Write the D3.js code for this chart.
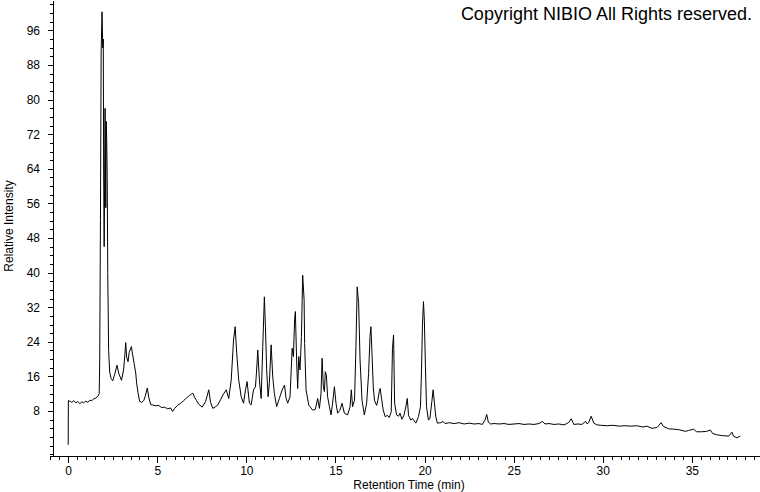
<!DOCTYPE html>
<html>
<head>
<meta charset="utf-8">
<script src="https://cdn.jsdelivr.net/npm/d3@7"></script>
<style>
  html, body { margin: 0; padding: 0; background: #fff; }
  svg { display: block; }
  text { font-family: "Liberation Sans", Arial, sans-serif; fill: #000; }
</style>
</head>
<body>
<svg id="chart" width="760" height="492"></svg>
<script>
// ---- data ----
const retentionTime = [
  0.00, 0.01, 0.09, 0.20, 0.31, 0.43, 0.54, 0.65, 0.76, 0.87, 0.99, 1.10, 1.21, 1.32, 1.43, 1.55, 1.66, 1.74,
  1.77, 1.81, 1.85, 1.90, 1.94, 1.97, 1.99, 2.02, 2.07, 2.11, 2.13, 2.16, 2.19, 2.22, 2.27, 2.33,
  2.41, 2.50, 2.61, 2.74, 2.83, 2.99, 3.11, 3.18, 3.23, 3.28, 3.36, 3.42, 3.55, 3.60, 3.70, 3.79, 3.84, 3.92,
  4.01, 4.12, 4.24, 4.33, 4.44, 4.53, 4.63, 4.74, 4.91, 5.08, 5.24, 5.41, 5.58, 5.75, 5.86, 5.97,
  6.14, 6.31, 6.48, 6.64, 6.81, 6.92, 7.00, 7.09, 7.19, 7.32, 7.52, 7.71, 7.89, 7.99, 8.12, 8.27, 8.40,
  8.55, 8.68, 8.87, 9.01, 9.15, 9.28, 9.37, 9.46, 9.57, 9.71, 9.84, 9.95, 10.04, 10.17, 10.27, 10.40,
  10.51, 10.57, 10.64, 10.73, 10.83, 10.92, 11.01, 11.07, 11.14, 11.22, 11.29, 11.39, 11.48, 11.57, 11.70,
  11.85, 12.01, 12.14, 12.23, 12.32, 12.45, 12.57, 12.64, 12.71, 12.75, 12.82, 12.88, 12.94, 13.01, 13.09,
  13.16, 13.24, 13.27, 13.35, 13.50, 13.72, 13.87, 14.00, 14.10, 14.19, 14.25, 14.32, 14.38, 14.43, 14.49,
  14.56, 14.66, 14.75, 14.84, 14.94, 15.03, 15.12, 15.25, 15.37, 15.50, 15.68, 15.82, 15.89, 15.96, 16.07,
  16.15, 16.22, 16.30, 16.38, 16.49, 16.62, 16.75, 16.86, 16.94, 16.99, 17.05, 17.12, 17.19, 17.31, 17.38,
  17.46, 17.51, 17.59, 17.68, 17.79, 17.92, 18.02, 18.13, 18.20, 18.26, 18.32, 18.43, 18.54, 18.62, 18.73,
  18.84, 18.95, 19.03, 19.10, 19.23, 19.32, 19.51, 19.66, 19.77, 19.83, 19.88, 19.94, 19.99, 20.05, 20.11,
  20.22, 20.30, 20.41, 20.48, 20.55, 20.63, 20.72, 20.91, 21.04, 21.15, 21.38, 21.66, 21.94, 22.22, 22.50,
  22.78, 23.06, 23.24, 23.39, 23.49, 23.58, 23.71, 23.90, 24.18, 24.46, 24.74, 25.02, 25.30, 25.58, 25.86,
  26.14, 26.42, 26.61, 26.76, 26.98, 27.26, 27.54, 27.82, 27.99, 28.10, 28.23, 28.38, 28.61, 28.83, 29.04,
  29.13, 29.22, 29.35, 29.50, 29.67, 29.89, 30.23, 30.57, 30.90, 31.24, 31.58, 31.91, 32.25, 32.47, 32.77,
  33.05, 33.27, 33.42, 33.70, 33.98, 34.26, 34.64, 34.82, 35.10, 35.27, 35.55, 35.83, 36.04, 36.17, 36.40,
  36.73, 37.07, 37.25, 37.34, 37.53, 37.72
];
const relativeIntensity = [
  0.2, 10.4, 10.3, 10.0, 10.4, 9.9, 10.2, 9.7, 10.1, 9.9, 10.3, 10.0, 10.5, 10.4, 10.8, 11.0, 11.4, 12.0,
  20, 52, 91, 100.3, 92, 94, 63, 46, 78, 55, 75, 71, 62, 40, 22, 17,
  15.5, 15.0, 16.5, 18.6, 16.8, 15.1, 17.5, 21, 23.8, 20.5, 19.4, 21.5, 22.9, 21.4, 19.0, 16.8, 14.5, 12.2,
  10.2, 10.0, 10.4, 11.5, 13.3, 11.0, 9.5, 9.4, 9.2, 9.3, 8.8, 8.9, 8.5, 8.7, 7.9, 8.6,
  9.3, 9.8, 10.4, 11.0, 11.6, 11.9, 12.1, 11.2, 10.5, 9.6, 8.9, 10.2, 12.9, 10.0, 8.6, 9.0, 9.4,
  10.6, 11.7, 12.9, 10.9, 15.2, 24.4, 27.5, 21.3, 15.2, 11.3, 9.8, 12.9, 14.8, 9.8, 9.4, 12.9,
  13.6, 17, 22.1, 15.2, 10.9, 22.9, 34.4, 27.5, 17.5, 11.3, 14.4, 23.3, 15.9, 12.1, 9.0,
  10.9, 12.9, 14.0, 10.9, 9.8, 11.3, 22.5, 20.6, 29.4, 31.0, 19.8, 13.2, 20.6, 17.5, 25.2,
  39.4, 33.7, 23.6, 12.9, 9.4, 8.2, 8.4, 10.9, 8.6, 12.1, 20.2, 13.6, 12.5, 17.1, 16.3,
  11.3, 9.0, 7.1, 9.8, 13.6, 9.8, 7.5, 8.2, 9.8, 7.5, 7.1, 9.0, 12.9, 9.0, 10.5,
  22.9, 36.7, 32.9, 19.8, 10.5, 7.1, 9.8, 16.7, 25.2, 27.5, 21.3, 13.6, 10.5, 9.3, 10.5,
  12.5, 13.2, 10.8, 8.2, 6.7, 7.0, 6.5, 7.8, 22.5, 25.6, 9.8, 7.1, 6.8, 7.5, 6.1,
  7.0, 9.0, 10.9, 7.0, 5.9, 6.3, 5.2, 6.7, 9.0, 17.5, 27.5, 33.3, 29.0, 18.2, 9.0,
  5.9, 6.3, 10.2, 12.9, 10.0, 6.7, 5.2, 5.3, 5.6, 5.1, 5.3, 5.1, 5.3, 5.0, 5.2,
  5.0, 5.1, 4.9, 5.9, 7.2, 5.4, 5.0, 5.1, 5.0, 5.1, 4.9, 5.0, 5.1, 4.9, 5.0,
  4.9, 5.1, 5.6, 5.0, 5.1, 4.9, 5.0, 4.8, 5.1, 5.4, 6.2, 4.9, 5.0, 4.9, 5.6,
  5.0, 5.4, 6.8, 5.2, 4.8, 4.7, 4.6, 4.7, 4.5, 4.6, 4.5, 4.6, 4.3, 4.5, 4.0,
  4.2, 5.3, 4.4, 3.9, 3.8, 3.7, 3.3, 3.5, 3.8, 3.2, 3.2, 3.3, 3.6, 2.8, 2.5,
  2.3, 2.2, 3.1, 2.2, 1.8, 2.2
];
const xMajorTicks = [0, 5, 10, 15, 20, 25, 30, 35];
const yMajorTicks = [8, 16, 24, 32, 40, 48, 56, 64, 72, 80, 88, 96];
const xLabel = "Retention Time (min)";
const yLabel = "Relative Intensity";
const copyrightText = "Copyright NIBIO All Rights reserved.";

// ---- layout ----
const svg = d3.select("#chart");
const axisY = 456, axisX = 53;
const x = d3.scaleLinear().domain([-1.0208, 38.77]).range([50, 759]);
const y = d3.scaleLinear().domain([-2.40, 103.03]).range([456, 0]);

const xMinor = d3.range(-1, 38.51, 0.5).filter(v => !xMajorTicks.includes(v));
const yMinor = d3.range(-2, 103, 2).filter(v => !yMajorTicks.includes(v));

// x axis
svg.append("g").attr("transform", `translate(0,${axisY})`)
  .call(d3.axisBottom(x).tickValues(xMinor).tickSize(4).tickSizeOuter(0).tickFormat(""))
  .call(g => g.selectAll("path,line").attr("stroke", "#000").attr("shape-rendering", "crispEdges"));
svg.append("g").attr("transform", `translate(0,${axisY})`)
  .call(d3.axisBottom(x).tickValues(xMajorTicks).tickSize(7).tickSizeOuter(0).tickPadding(3).tickFormat(d3.format("d")))
  .call(g => g.select(".domain").remove())
  .call(g => g.selectAll("line").attr("stroke", "#000").attr("shape-rendering", "crispEdges"))
  .call(g => g.selectAll("text").attr("font-size", 12).attr("font-family", '"Liberation Sans", Arial, sans-serif').attr("fill", "#000"));

// y axis
svg.append("g").attr("transform", `translate(${axisX},0)`)
  .call(d3.axisLeft(y).tickValues(yMinor).tickSize(3).tickSizeOuter(0).tickFormat(""))
  .call(g => g.selectAll("path,line").attr("stroke", "#000").attr("shape-rendering", "crispEdges"));
svg.append("g").attr("transform", `translate(${axisX},0)`)
  .call(d3.axisLeft(y).tickValues(yMajorTicks).tickSize(5).tickSizeOuter(0).tickPadding(8).tickFormat(d3.format("d")))
  .call(g => g.select(".domain").remove())
  .call(g => g.selectAll("line").attr("stroke", "#000").attr("shape-rendering", "crispEdges"))
  .call(g => g.selectAll("text").attr("font-size", 12).attr("font-family", '"Liberation Sans", Arial, sans-serif').attr("fill", "#000"));

// axis titles
svg.append("text").attr("x", 409).attr("y", 489).attr("text-anchor", "middle")
  .attr("font-size", 12).text(xLabel);
svg.append("text").attr("transform", "translate(13,226) rotate(-90)").attr("text-anchor", "middle")
  .attr("font-size", 12).text(yLabel);

// copyright
svg.append("text").attr("x", 752).attr("y", 20).attr("text-anchor", "end")
  .attr("font-size", 18).text(copyrightText);

// trace
const pts = retentionTime.map((t, i) => [t, relativeIntensity[i]]);
svg.append("path").datum(pts)
  .attr("fill", "none").attr("stroke", "#000").attr("stroke-width", 1)
  .attr("d", d3.line().x(d => x(d[0])).y(d => y(d[1])));
</script>
</body>
</html>
